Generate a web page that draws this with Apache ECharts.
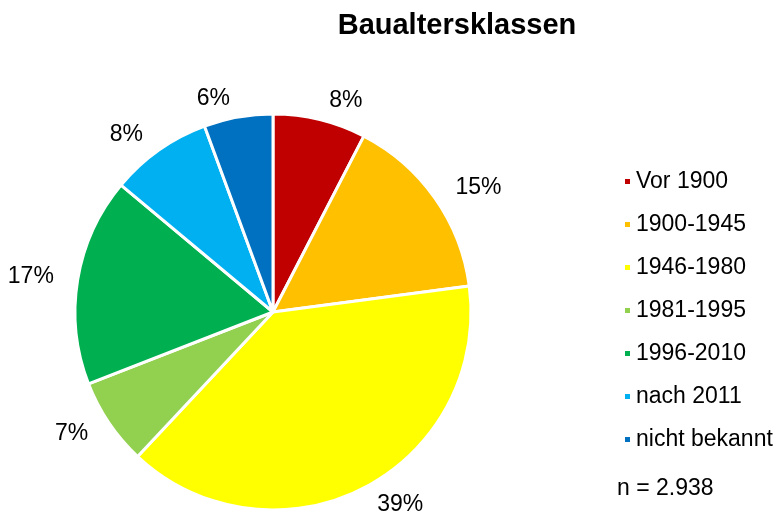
<!DOCTYPE html>
<html lang="de">
<head>
    <meta charset="UTF-8">
    <title>Baualtersklassen</title>
    <script src="https://cdn.jsdelivr.net/npm/echarts@6/dist/echarts.min.js"></script>
</head>
<body style="margin:0">
<div id="main" style="width:781px;height:528px;"></div>
<script>
    // Baualtersklassen, n = 2.938 (Anzahl je Klasse aus dem Bild geschaetzt)
    var categories = ['Vor 1900', '1900-1945', '1946-1980', '1981-1995', '1996-2010', 'nach 2011', 'nicht bekannt'];
    var counts = [223, 450, 1148, 209, 499, 244, 165];
    var colors = ['#C00000', '#FFC000', '#FFFF00', '#92D050', '#00B050', '#00B0F0', '#0070C0'];
    var nText = 'n = 2.938';

    var myChart = echarts.init(document.getElementById('main'));
    var font = 'Liberation Sans, Arial, sans-serif';

    var option = {
        animation: false,
        color: colors,
        title: {
            text: 'Baualtersklassen',
            left: 452,
            textAlign: 'center',
            top: 6,
            textStyle: {fontFamily: font, fontSize: 29, fontWeight: 'bold', color: '#000'}
        },
        legend: {
            orient: 'vertical',
            left: 618,
            top: 165,
            icon: 'rect',
            itemWidth: 7,
            itemHeight: 7,
            itemGap: 20,
            data: categories,
            textStyle: {fontFamily: font, fontSize: 23, color: '#000', padding: [0, 0, 0, 0]}
        },
        graphic: [{
            type: 'text',
            left: 617,
            top: 477,
            style: {text: nText, font: '23px ' + font, fill: '#000'}
        }],
        series: [{
            type: 'pie',
            center: [273, 312],
            radius: [0, 198],
            startAngle: 90,
            data: categories.map(function (c, i) { return {name: c, value: counts[i]}; }),
            itemStyle: {borderColor: '#fff', borderWidth: 3},
            label: {
                position: 'outside',
                overflow: 'none',
                fontFamily: font,
                fontSize: 23,
                color: '#000',
                formatter: function (p) { return Math.round(p.percent) + '%'; }
            },
            labelLine: {show: false, length: 19, length2: 0},
            emphasis: {disabled: true}
        }]
    };

    myChart.setOption(option);
</script>
</body>
</html>
